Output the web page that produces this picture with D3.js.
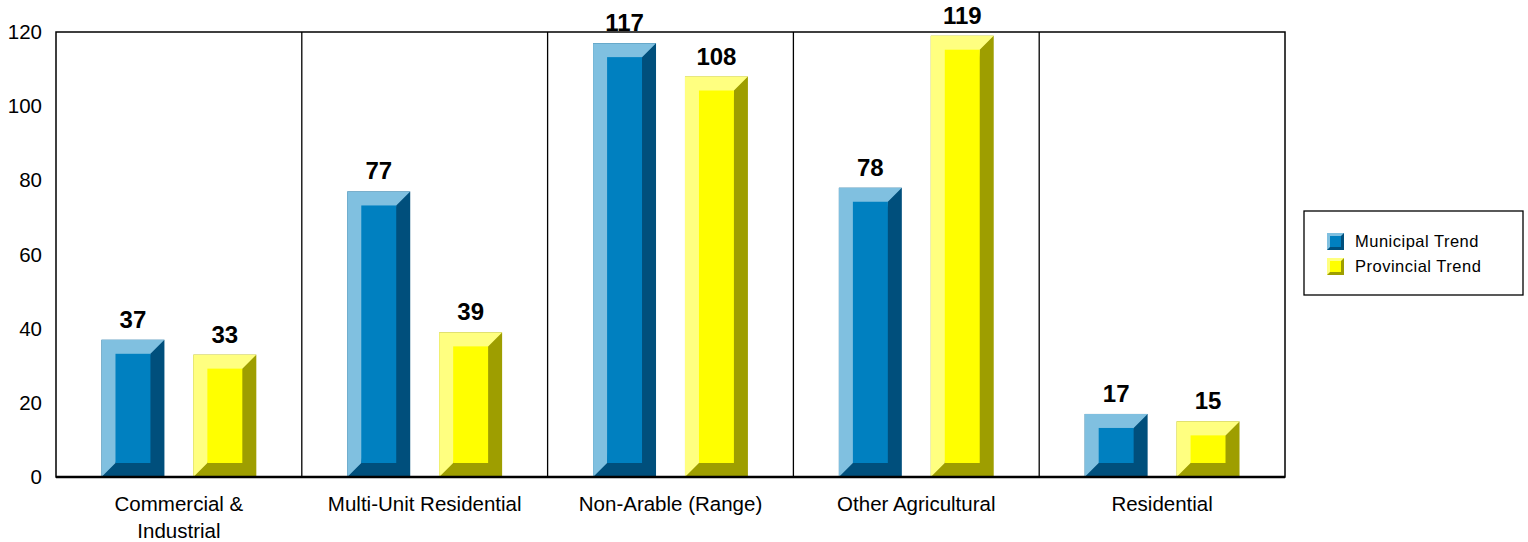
<!DOCTYPE html>
<html>
<head>
<meta charset="utf-8">
<script src="https://cdn.jsdelivr.net/npm/d3@7"></script>
<style>
  body { margin: 0; background: #fff; }
  svg { display: block; font-family: "Liberation Sans", Arial, sans-serif; }
</style>
</head>
<body>
<svg id="chart" width="1528" height="542"></svg>
<script>
// Chart data
const categories = ["Commercial & Industrial", "Multi-Unit Residential", "Non-Arable (Range)", "Other Agricultural", "Residential"];
const categoryLines = [["Commercial &", "Industrial"], ["Multi-Unit Residential"], ["Non-Arable (Range)"], ["Other Agricultural"], ["Residential"]];
const seriesNames = ["Municipal Trend", "Provincial Trend"];
const municipal = [37, 77, 117, 78, 17];
const provincial = [33, 39, 108, 119, 15];
const yTicks = [0, 20, 40, 60, 80, 100, 120];

// Face colours per series: front, light (top/left), dark (bottom/right)
const shades = {
  "Municipal Trend": { front: "#0080C0", light: "#80C0E0", dark: "#004F7C" },
  "Provincial Trend": { front: "#FFFF00", light: "#FFFF80", dark: "#9E9E00" }
};

const margin = { top: 32, right: 243, bottom: 65, left: 56 };
const width = 1528 - margin.left - margin.right;
const height = 542 - margin.top - margin.bottom;

const svg = d3.select("#chart")
  .append("g")
  .attr("transform", `translate(${margin.left},${margin.top})`);

// Scales
const x0 = d3.scaleBand()
  .domain(categories)
  .range([0, width])
  .padding(0);

const x1 = d3.scaleBand()
  .domain(seriesNames)
  .range([0, x0.bandwidth()])
  .paddingInner(0.315)
  .paddingOuter(0.495);

const y = d3.scaleLinear()
  .domain([0, 120])
  .range([height, 0]);

// Build rows for the grouped bars
const rows = categories.map((c, i) => ({
  category: c,
  values: [
    { series: seriesNames[0], value: municipal[i] },
    { series: seriesNames[1], value: provincial[i] }
  ]
}));

// Vertical dividers between categories
svg.selectAll(".divider")
  .data(categories.slice(1))
  .enter()
  .append("line")
  .attr("x1", d => x0(d))
  .attr("x2", d => x0(d))
  .attr("y1", 0)
  .attr("y2", height)
  .attr("stroke", "#000")
  .attr("stroke-width", 1.3);

// Bevelled bars
const bevel = 14;
const groups = svg.selectAll(".group")
  .data(rows)
  .enter()
  .append("g")
  .attr("class", "group")
  .attr("transform", d => `translate(${x0(d.category)},0)`);

const bars = groups.selectAll(".bar")
  .data(d => d.values)
  .enter()
  .append("g")
  .attr("class", "bar");

bars.each(function(d) {
  const g = d3.select(this);
  const bx0 = x1(d.series);
  const bx1 = bx0 + x1.bandwidth();
  const by0 = y(d.value);
  const by1 = y(0);
  const c = shades[d.series];
  const b = Math.min(bevel, (by1 - by0) / 2);

  g.append("rect")
    .attr("x", bx0).attr("y", by0)
    .attr("width", bx1 - bx0).attr("height", by1 - by0)
    .attr("fill", c.dark);

  g.append("polygon")
    .attr("points", [[bx0, by0], [bx1, by0], [bx1 - b, by0 + b], [bx0 + b, by1 - b], [bx0, by1]].join(" "))
    .attr("fill", c.light);

  g.append("rect")
    .attr("x", bx0 + b).attr("y", by0 + b)
    .attr("width", bx1 - bx0 - 2 * b).attr("height", by1 - by0 - 2 * b)
    .attr("fill", c.front);

  g.append("text")
    .attr("x", (bx0 + bx1) / 2)
    .attr("y", by0 - 12)
    .attr("text-anchor", "middle")
    .attr("font-size", 24)
    .attr("font-weight", "bold")
    .attr("fill", "#000")
    .text(d.value);
});

// Plot frame
svg.append("rect")
  .attr("x", 0).attr("y", 0)
  .attr("width", width).attr("height", height)
  .attr("fill", "none")
  .attr("stroke", "#000")
  .attr("stroke-width", 1.5);

svg.append("line")
  .attr("x1", 0).attr("x2", width)
  .attr("y1", height).attr("y2", height)
  .attr("stroke", "#000")
  .attr("stroke-width", 2.5);

// Y axis
const yAxis = svg.append("g")
  .call(d3.axisLeft(y).tickValues(yTicks).tickSize(0).tickPadding(14));
yAxis.select(".domain").remove();
yAxis.selectAll("text")
  .attr("font-size", 20.5)
  .attr("font-family", "Liberation Sans, Arial, sans-serif")
  .attr("fill", "#000");

// X axis labels
const xAxis = svg.append("g")
  .attr("transform", `translate(0,${height})`)
  .call(d3.axisBottom(x0).tickSize(0).tickFormat(""));
xAxis.select(".domain").remove();

xAxis.selectAll(".tick")
  .append("text")
  .attr("fill", "#000")
  .attr("font-size", 20.5)
  .attr("font-family", "Liberation Sans, Arial, sans-serif")
  .attr("text-anchor", "middle")
  .each(function(d, i) {
    const t = d3.select(this);
    categoryLines[i].forEach((line, j) => {
      t.append("tspan")
        .attr("x", 0)
        .attr("y", 34 + j * 26.5)
        .text(line);
    });
  });

// Legend
const legend = d3.select("#chart").append("g")
  .attr("transform", "translate(1304,211)");

legend.append("rect")
  .attr("width", 219).attr("height", 84)
  .attr("fill", "#fff")
  .attr("stroke", "#000")
  .attr("stroke-width", 1.3);

const items = legend.selectAll(".item")
  .data(seriesNames)
  .enter()
  .append("g")
  .attr("class", "item")
  .attr("transform", (d, i) => `translate(23,${22 + i * 25})`);

items.each(function(d) {
  const g = d3.select(this);
  const c = shades[d];
  const s = 17, b = 3;
  g.append("rect").attr("width", s).attr("height", s).attr("fill", c.dark);
  g.append("polygon")
    .attr("points", [[0, 0], [s, 0], [s - b, b], [b, s - b], [0, s]].join(" "))
    .attr("fill", c.light);
  g.append("rect").attr("x", b).attr("y", b).attr("width", s - 2 * b).attr("height", s - 2 * b).attr("fill", c.front);
  g.append("text")
    .attr("x", 28)
    .attr("y", 14)
    .attr("font-size", 16.5)
    .attr("letter-spacing", 0.5)
    .attr("fill", "#000")
    .text(d);
});
</script>
</body>
</html>
